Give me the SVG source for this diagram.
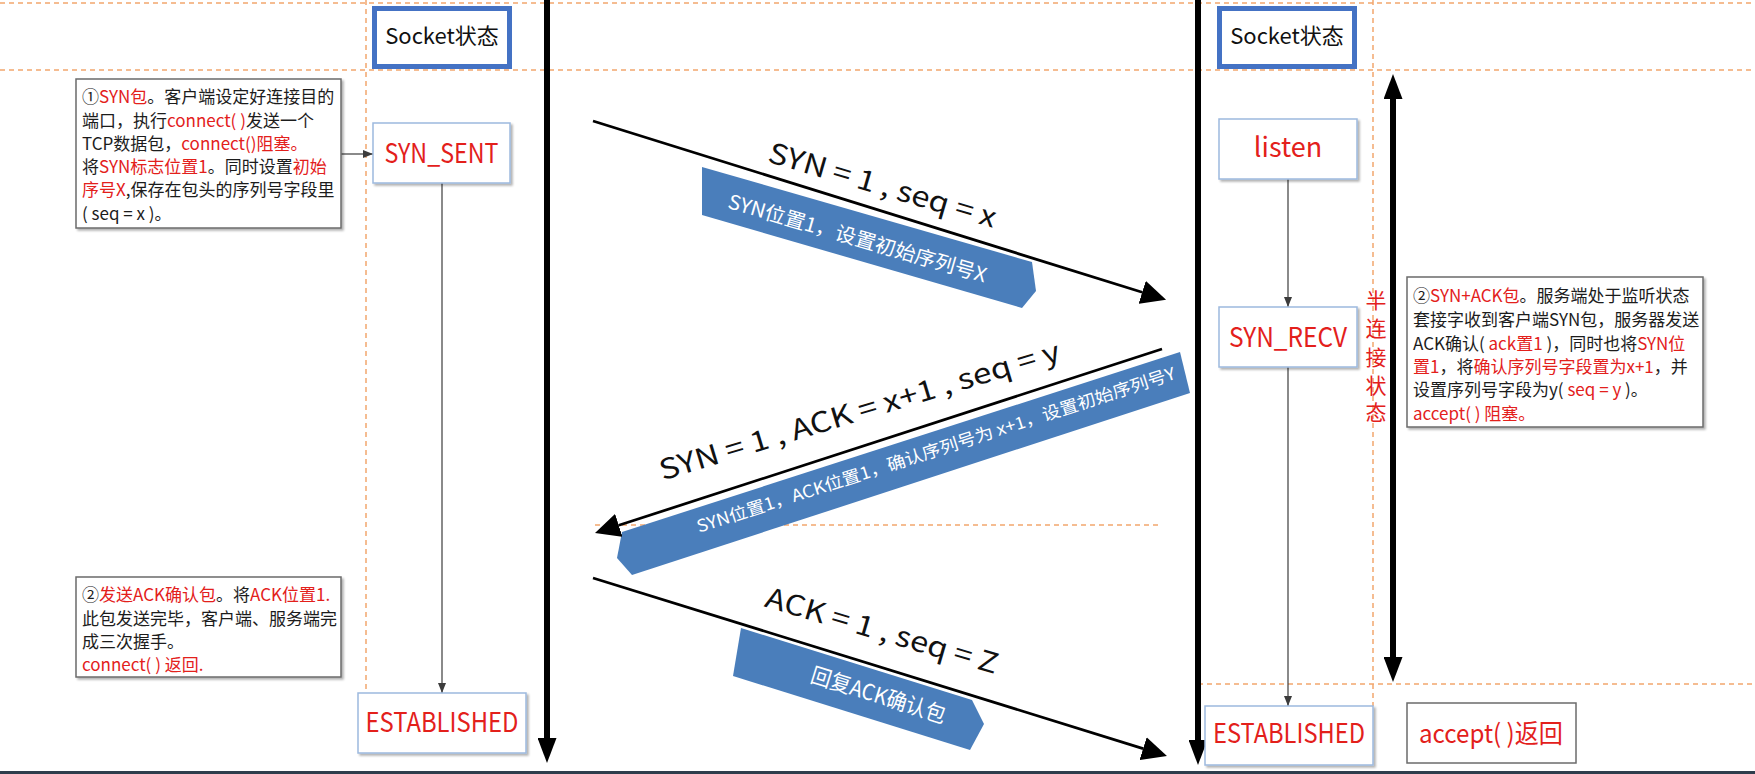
<svg xmlns="http://www.w3.org/2000/svg" width="1755" height="774" viewBox="0 0 1755 774">
<style>
 text { font-family: "Noto Sans CJK SC", "Noto Sans", sans-serif; }
 .dash { stroke:#F2A66E; stroke-width:1.5; stroke-dasharray:5 4; fill:none; }
 .sock { fill:#fff; stroke:#4472C4; stroke-width:5; }
 .st { fill:#fff; stroke:#9DB9DE; stroke-width:1.5; }
 .note { fill:#fff; stroke:#6b6b6b; stroke-width:1.5; }
 .thin { stroke:#3c3c3c; stroke-width:1.2; fill:none; }
 .thick { stroke:#000; stroke-width:6; }
 .msg { stroke:#000; stroke-width:2.75; }
 .band { fill:#4A7EBB; }
 .r { fill:#E3201B; }
 .nt { font-size:17px; fill:#1c1c1c; }
 .stt { font-size:27px; fill:#E3201B; text-anchor:middle; }
 .sk { font-size:22px; fill:#111; text-anchor:middle; }
 .lbl { font-size:28px; fill:#111; text-anchor:middle; }
 .bt { fill:#fff; text-anchor:middle; }
 .vt { font-size:21px; fill:#E3201B; text-anchor:middle; }
</style>
<defs>
 <filter id="sh" x="-10%" y="-10%" width="130%" height="130%">
  <feDropShadow dx="2" dy="2" stdDeviation="1.2" flood-color="#000" flood-opacity="0.3"/>
 </filter>
 <marker id="sa" viewBox="0 0 10 8" refX="10" refY="4" markerWidth="10" markerHeight="8" markerUnits="userSpaceOnUse" orient="auto">
  <path d="M0,0 L10,4 L0,8 z" fill="#3c3c3c"/>
 </marker>
 <marker id="ha" viewBox="0 -12 25 24" refX="0" refY="0" markerWidth="25" markerHeight="24" markerUnits="userSpaceOnUse" orient="auto">
  <path d="M0,-12 L25,0 L0,12 z" fill="#000"/>
 </marker>
 <marker id="va" viewBox="0 -9.5 25 19" refX="0" refY="0" markerWidth="25" markerHeight="19" markerUnits="userSpaceOnUse" orient="auto-start-reverse">
  <path d="M0,-9.5 L25,0 L0,9.5 z" fill="#000"/>
 </marker>
</defs>
<rect width="1755" height="774" fill="#fff"/>
<g id="guides">
 <line class="dash" x1="0" y1="3" x2="1755" y2="3"/>
 <line class="dash" x1="0" y1="70" x2="1755" y2="70"/>
 <line class="dash" x1="366" y1="0" x2="366" y2="693"/>
 <line class="dash" x1="1373" y1="0" x2="1373" y2="706"/>
 <line class="dash" x1="595" y1="525" x2="1162" y2="525"/>
 <line class="dash" x1="1198" y1="684" x2="1755" y2="684"/>
</g>
<rect x="0" y="771" width="1755" height="3" fill="#2f3d4c"/>
<g id="timelines">
 <line class="thick" x1="547" y1="0" x2="547" y2="738" marker-end="url(#va)"/>
 <line class="thick" x1="1198" y1="0" x2="1198" y2="740" marker-end="url(#va)"/>
 <line class="thick" x1="1393" y1="99" x2="1393" y2="657" marker-start="url(#va)" marker-end="url(#va)"/>
</g>
<g id="socket-left">
 <rect class="sock" x="374.5" y="8.5" width="135" height="58"/>
 <text class="sk" x="442" y="44">Socket状态</text>
</g>
<g id="socket-right">
 <rect class="sock" x="1219.5" y="8.5" width="135" height="58"/>
 <text class="sk" x="1287" y="44">Socket状态</text>
</g>
<g id="half-open">
 <text class="vt" x="1376" y="308">半</text>
 <text class="vt" x="1376" y="336">连</text>
 <text class="vt" x="1376" y="365">接</text>
 <text class="vt" x="1376" y="393">状</text>
 <text class="vt" x="1376" y="420">态</text>
</g>
<g id="connectors">
 <line class="thin" x1="341" y1="154" x2="373" y2="154" marker-end="url(#sa)"/>
 <line class="thin" x1="442" y1="183" x2="442" y2="693" marker-end="url(#sa)"/>
 <line class="thin" x1="1288" y1="179" x2="1288" y2="307" marker-end="url(#sa)"/>
 <line class="thin" x1="1288" y1="367" x2="1288" y2="706" marker-end="url(#sa)"/>
</g>
<g id="note-syn">
 <rect class="note" x="76" y="79" width="265" height="149" filter="url(#sh)"/>
 <text class="nt" x="82" y="103">①<tspan class="r">SYN包</tspan>。客户端设定好连接目的</text>
 <text class="nt" x="82" y="127">端口，执行<tspan class="r">connect( )</tspan>发送一个</text>
 <text class="nt" x="82" y="150">TCP数据包，<tspan class="r">connect()阻塞。</tspan></text>
 <text class="nt" x="82" y="173">将<tspan class="r">SYN标志位置1</tspan>。同时设置<tspan class="r">初始</tspan></text>
 <text class="nt" x="82" y="196"><tspan class="r">序号X</tspan>,保存在包头的序列号字段里</text>
 <text class="nt" x="82" y="219.5">( seq = x )。</text>
</g>
<g id="note-ack">
 <rect class="note" x="76" y="577" width="265" height="100" filter="url(#sh)"/>
 <text class="nt" x="82" y="601">②<tspan class="r">发送ACK确认包</tspan>。将<tspan class="r">ACK位置1.</tspan></text>
 <text class="nt" x="82" y="624.5">此包发送完毕，客户端、服务端完</text>
 <text class="nt" x="82" y="648">成三次握手。</text>
 <text class="nt" x="82" y="671"><tspan class="r">connect( ) 返回.</tspan></text>
</g>
<g id="note-synack">
 <rect class="note" x="1407" y="277" width="296" height="150" filter="url(#sh)"/>
 <text class="nt" x="1413" y="301.5">②<tspan class="r">SYN+ACK包</tspan>。服务端处于监听状态</text>
 <text class="nt" x="1413" y="326">套接字收到客户端SYN包，服务器发送</text>
 <text class="nt" x="1413" y="350">ACK确认(<tspan class="r"> ack置1 </tspan>)，同时也将<tspan class="r">SYN位</tspan></text>
 <text class="nt" x="1413" y="373"><tspan class="r">置1</tspan>，将<tspan class="r">确认序列号字段置为x+1</tspan>，并</text>
 <text class="nt" x="1413" y="396">设置序列号字段为y(<tspan class="r"> seq = y </tspan>)。</text>
 <text class="nt" x="1413" y="420"><tspan class="r">accept( ) 阻塞。</tspan></text>
</g>
<g id="syn-sent">
 <rect class="st" x="373" y="123" width="137" height="60" filter="url(#sh)"/>
 <text class="stt" x="441.5" y="163" textLength="114" lengthAdjust="spacingAndGlyphs">SYN_SENT</text>
</g>
<g id="established-client">
 <rect class="st" x="358" y="693" width="168" height="60" filter="url(#sh)"/>
 <text class="stt" x="442" y="732" textLength="153" lengthAdjust="spacingAndGlyphs">ESTABLISHED</text>
</g>
<g id="listen">
 <rect class="st" x="1219" y="119" width="138" height="60" filter="url(#sh)"/>
 <text class="stt" x="1288" y="157">listen</text>
</g>
<g id="syn-recv">
 <rect class="st" x="1219" y="307" width="138" height="60" filter="url(#sh)"/>
 <text class="stt" x="1288" y="347" textLength="118" lengthAdjust="spacingAndGlyphs">SYN_RECV</text>
</g>
<g id="established-server">
 <rect class="st" x="1205" y="706" width="168" height="59" filter="url(#sh)"/>
 <text class="stt" x="1289" y="743" textLength="152" lengthAdjust="spacingAndGlyphs">ESTABLISHED</text>
</g>
<g id="accept-return">
 <rect class="note" x="1407" y="703" width="169" height="60"/>
 <text class="stt" x="1491" y="743" style="font-size:26px" textLength="144" lengthAdjust="spacingAndGlyphs">accept( )返回</text>
</g>
<g id="msg-syn">
 <polygon class="band" points="702,167 1032,262 1036,291 1022,308 702,215"/>
 <text class="bt" transform="translate(857.5,238.5) rotate(16.2)" x="0" y="7" style="font-size:20px" textLength="268" lengthAdjust="spacingAndGlyphs">SYN位置1，设置初始序列号X</text>
 <line class="msg" x1="593" y1="121" x2="1142.2" y2="292.3" marker-end="url(#ha)"/>
 <text class="lbl" transform="translate(882,187) rotate(16.3)" x="0" y="8" textLength="236" lengthAdjust="spacingAndGlyphs">SYN = 1 , seq = x</text>
</g>
<g id="msg-synack">
 <polygon class="band" points="617,558 622,532 1180,352 1190,393 632,575"/>
 <text class="bt" transform="translate(936,450) rotate(-17.9)" x="0" y="6" style="font-size:17px" textLength="502" lengthAdjust="spacingAndGlyphs">SYN位置1，ACK位置1，确认序列号为 x+1，设置初始序列号Y</text>
 <line class="msg" x1="1162" y1="349" x2="618.8" y2="525.3" marker-end="url(#ha)"/>
 <text class="lbl" transform="translate(860,412.5) rotate(-16.8)" x="0" y="8" textLength="417" lengthAdjust="spacingAndGlyphs">SYN = 1 , ACK = x+1 , seq = y</text>
</g>
<g id="msg-ack">
 <polygon class="band" points="741,628 972,700 984,724 970,750 733,676"/>
 <text class="bt" transform="translate(878.5,695) rotate(17.3)" x="0" y="8" style="font-size:22px" textLength="140" lengthAdjust="spacingAndGlyphs">回复ACK确认包</text>
 <line class="msg" x1="593" y1="578" x2="1143.1" y2="748.6" marker-end="url(#ha)"/>
 <text class="lbl" transform="translate(881.5,632.5) rotate(16.3)" x="0" y="8" textLength="241" lengthAdjust="spacingAndGlyphs">ACK = 1 , seq = Z</text>
</g>
</svg>
